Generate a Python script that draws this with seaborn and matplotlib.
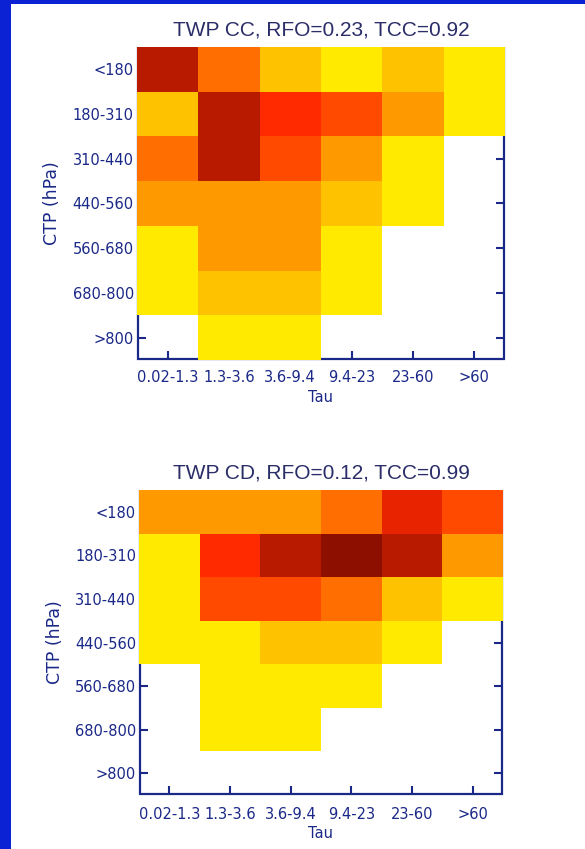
import numpy as np
import pandas as pd
import seaborn as sns
import matplotlib.pyplot as plt
from matplotlib.colors import ListedColormap, BoundaryNorm
from matplotlib.patches import Rectangle

# ISCCP-style joint histogram bins
tau_bins = ["0.02-1.3", "1.3-3.6", "3.6-9.4", "9.4-23", "23-60", ">60"]
ctp_bins = ["<180", "180-310", "310-440", "440-560", "560-680", "680-800", ">800"]

# estimated frequency class of each cell (nan = empty)
nan = np.nan
cc_vals = [
    [7.5, 3.5, 1.5, 0.5, 1.5, 0.5],
    [1.5, 7.5, 5.5, 4.5, 2.5, 0.5],
    [3.5, 7.5, 4.5, 2.5, 0.5, nan],
    [2.5, 2.5, 2.5, 1.5, 0.5, nan],
    [0.5, 2.5, 2.5, 0.5, nan, nan],
    [0.5, 1.5, 1.5, 0.5, nan, nan],
    [nan, 0.5, 0.5, nan, nan, nan],
]
cd_vals = [
    [2.5, 2.5, 2.5, 3.5, 6.5, 4.5],
    [0.5, 5.5, 7.5, 8.5, 7.5, 2.5],
    [0.5, 4.5, 4.5, 3.5, 1.5, 0.5],
    [0.5, 0.5, 1.5, 1.5, 0.5, nan],
    [nan, 0.5, 0.5, 0.5, nan, nan],
    [nan, 0.5, 0.5, nan, nan, nan],
    [nan, nan, nan, nan, nan, nan],
]
titles = ["TWP CC, RFO=0.23, TCC=0.92", "TWP CD, RFO=0.12, TCC=0.99"]

level_colors = ["#ffea00", "#ffc200", "#ff9900", "#ff6e00", "#ff4a00",
                "#ff2a00", "#e82400", "#b81a00", "#8c0f00"]
cmap = ListedColormap(level_colors)
norm = BoundaryNorm(np.arange(0, 10), cmap.N)

navy = "#1a2888"
sns.set_style("white")

fig = plt.figure(figsize=(5.85, 8.49), dpi=100, facecolor="#0b22d4")
fig.patches.append(Rectangle((11 / 585, 0), 1, 1 - 4 / 849, transform=fig.transFigure,
                             facecolor="white", edgecolor="none", zorder=-1))

axes_pos = [[0.234, 0.576, 0.629, 0.3687], [0.2376, 0.0636, 0.6222, 0.3592]]
xpads = [8, 9.5]
xlab_y = [-0.096, -0.102]

for vals, title, pos, xpad, ly in zip([cc_vals, cd_vals], titles, axes_pos, xpads, xlab_y):
    ax = fig.add_axes(pos)
    df = pd.DataFrame(vals, index=ctp_bins, columns=tau_bins)
    sns.heatmap(df, cmap=cmap, norm=norm, cbar=False, ax=ax)
    # frame sits under the cells, as in the original plot
    ax.set_axisbelow(True)
    for side, sp in ax.spines.items():
        sp.set_visible(side != "top")
        sp.set_color(navy)
        sp.set_linewidth(1.6)
        sp.set_zorder(0.5)
        sp.set_capstyle("butt")
        sp.set_position(("outward", -0.8))
    ax.tick_params(axis="both", direction="in", length=6, width=1.5, color=navy,
                   labelcolor=navy, labelsize=10.5)
    ax.tick_params(axis="y", right=True, left=True, pad=3, labelrotation=0)
    ax.tick_params(axis="x", bottom=True, top=False, pad=xpad, labelrotation=0)
    ax.set_xlabel("Tau", color=navy, fontsize=10.5)
    ax.set_ylabel("CTP (hPa)", color=navy, fontsize=12.5)
    ax.xaxis.set_label_coords(0.5, ly)
    ax.yaxis.set_label_coords(-0.205, 0.5)
    ax.text(0.502, 1 + 17 / (pos[3] * 849), title, transform=ax.transAxes,
            ha="center", va="center", fontsize=15, color="#2a2d68",
            family="Liberation Sans")

fig.savefig("out.png", dpi=100, facecolor=fig.get_facecolor())
